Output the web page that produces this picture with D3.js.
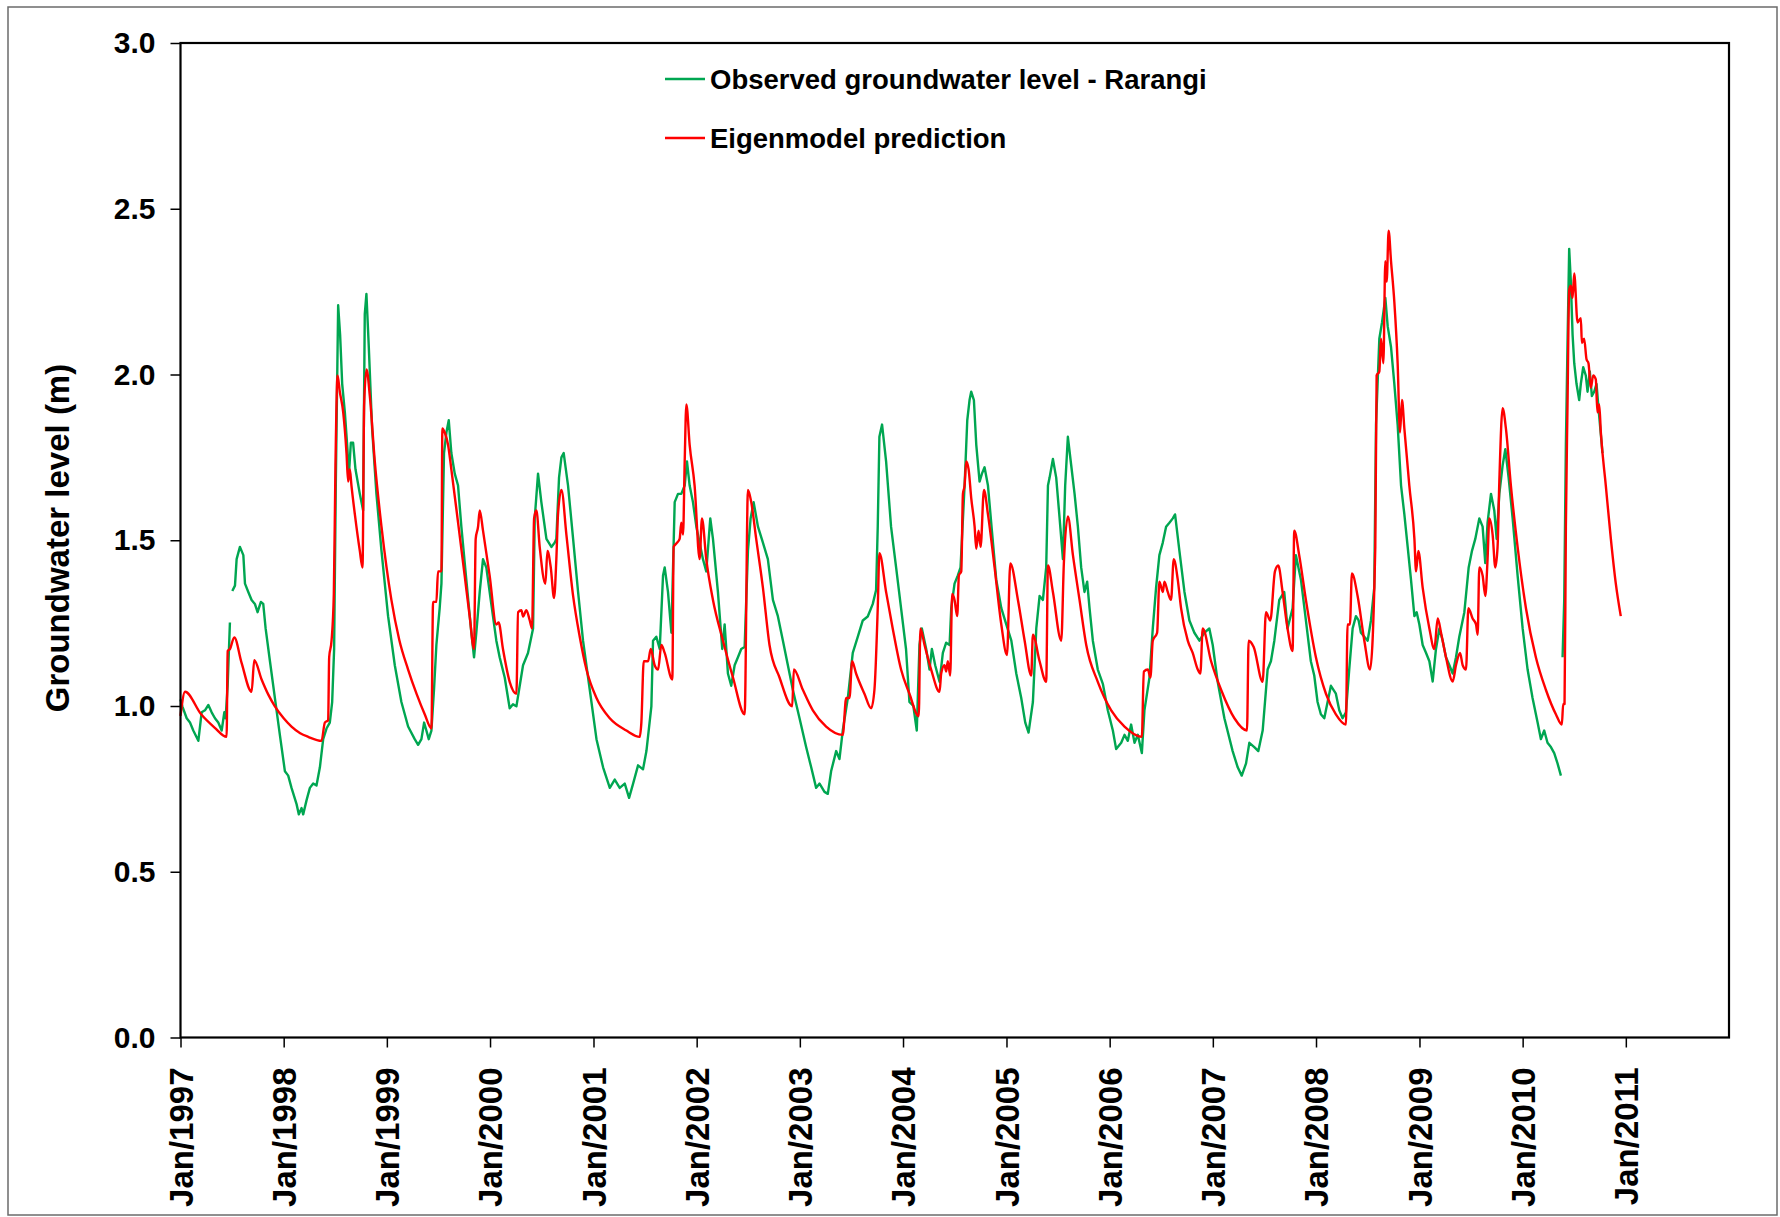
<!DOCTYPE html>
<html>
<head>
<meta charset="utf-8">
<script src="https://cdn.jsdelivr.net/npm/d3@7"></script>
<style>
  body { margin: 0; background: #fff; }
  text { font-family: "Liberation Sans", Arial, sans-serif; font-weight: bold; }
</style>
</head>
<body>
<script>
const width = 1780;
const height = 1217;

// decimal year, groundwater level (m); null = gap in the record
const observedLevel = [
  [1997.000, 1.02], [1997.018, 0.999], [1997.060, 0.963], [1997.092, 0.95], [1997.124, 0.926],
  [1997.173, 0.895], [1997.205, 0.981], [1997.237, 0.987], [1997.270, 1.003], [1997.302, 0.981],
  [1997.334, 0.963], [1997.366, 0.95], [1997.399, 0.926], [1997.425, 0.981], [1997.437, 0.963],
  [1997.457, 1.061], [1997.479, 1.252], [1997.490, null],
  [1997.502, 1.347], [1997.528, 1.363], [1997.544, 1.443], [1997.576, 1.48], [1997.609, 1.455],
  [1997.625, 1.369], [1997.657, 1.344], [1997.689, 1.32], [1997.721, 1.308], [1997.747, 1.283],
  [1997.779, 1.314], [1997.802, 1.308], [1997.825, 1.234], [1997.867, 1.135], [1997.915, 1.024],
  [1997.963, 0.913], [1998.012, 0.803], [1998.044, 0.79], [1998.076, 0.753], [1998.125, 0.704],
  [1998.147, 0.673], [1998.173, 0.692], [1998.189, 0.673], [1998.222, 0.716], [1998.254, 0.753],
  [1998.286, 0.766], [1998.318, 0.76], [1998.351, 0.815], [1998.383, 0.9], [1998.415, 0.932],
  [1998.447, 0.95], [1998.470, 1.012], [1998.489, 1.172], [1998.505, 1.665], [1998.528, 2.209],
  [1998.547, 2.12], [1998.567, 1.972], [1998.593, 1.886], [1998.618, 1.775], [1998.631, 1.69],
  [1998.651, 1.794], [1998.673, 1.794], [1998.696, 1.714], [1998.738, 1.64], [1998.770, 1.59],
  [1998.786, 2.182], [1998.802, 2.243], [1998.825, 2.083], [1998.857, 1.837], [1998.899, 1.64],
  [1998.948, 1.468], [1999.012, 1.271], [1999.077, 1.123], [1999.141, 1.012], [1999.206, 0.938],
  [1999.270, 0.9], [1999.303, 0.883], [1999.335, 0.9], [1999.361, 0.95], [1999.383, 0.926],
  [1999.406, 0.9], [1999.432, 0.926], [1999.457, 1.049], [1999.480, 1.184], [1999.512, 1.295],
  [1999.529, 1.369], [1999.554, 1.763], [1999.577, 1.825], [1999.600, 1.862], [1999.625, 1.763],
  [1999.658, 1.701], [1999.690, 1.665], [1999.722, 1.541], [1999.770, 1.381], [1999.819, 1.221],
  [1999.845, 1.147], [1999.867, 1.221], [1999.900, 1.344], [1999.932, 1.443], [1999.964, 1.418],
  [2000.012, 1.308], [2000.061, 1.197], [2000.093, 1.147], [2000.142, 1.086], [2000.190, 0.993],
  [2000.222, 1.005], [2000.255, 0.999], [2000.287, 1.061], [2000.319, 1.123], [2000.367, 1.16],
  [2000.416, 1.234], [2000.432, 1.566], [2000.464, 1.701], [2000.496, 1.615], [2000.545, 1.504],
  [2000.593, 1.48], [2000.626, 1.493], [2000.641, 1.505], [2000.667, 1.689], [2000.690, 1.75],
  [2000.712, 1.763], [2000.754, 1.665], [2000.803, 1.504], [2000.851, 1.344], [2000.899, 1.197],
  [2000.964, 1.049], [2001.029, 0.9], [2001.093, 0.815], [2001.158, 0.753], [2001.206, 0.778],
  [2001.254, 0.753], [2001.303, 0.766], [2001.345, 0.723], [2001.384, 0.766], [2001.432, 0.821],
  [2001.480, 0.809], [2001.513, 0.864], [2001.561, 0.999], [2001.577, 1.197], [2001.609, 1.209],
  [2001.642, 1.172], [2001.674, 1.394], [2001.690, 1.418], [2001.722, 1.344], [2001.755, 1.221],
  [2001.787, 1.615], [2001.819, 1.64], [2001.851, 1.64], [2001.884, 1.665], [2001.906, 1.738],
  [2001.932, 1.665], [2001.964, 1.615], [2001.997, 1.541], [2002.061, 1.443], [2002.093, 1.406],
  [2002.132, 1.566], [2002.158, 1.504], [2002.206, 1.344], [2002.248, 1.172], [2002.271, 1.246],
  [2002.303, 1.098], [2002.335, 1.061], [2002.368, 1.123], [2002.400, 1.147], [2002.432, 1.172],
  [2002.465, 1.178], [2002.497, 1.468], [2002.523, 1.566], [2002.552, 1.615], [2002.594, 1.541],
  [2002.642, 1.493], [2002.690, 1.443], [2002.739, 1.32], [2002.787, 1.271], [2002.836, 1.197],
  [2002.884, 1.123], [2002.932, 1.049], [2002.997, 0.963], [2003.061, 0.876], [2003.110, 0.815],
  [2003.158, 0.753], [2003.191, 0.766], [2003.239, 0.741], [2003.271, 0.735], [2003.303, 0.803],
  [2003.352, 0.864], [2003.384, 0.84], [2003.416, 0.926], [2003.465, 1.024], [2003.513, 1.16],
  [2003.562, 1.209], [2003.610, 1.258], [2003.658, 1.27], [2003.707, 1.308], [2003.739, 1.35],
  [2003.755, 1.541], [2003.771, 1.812], [2003.797, 1.849], [2003.836, 1.738], [2003.884, 1.541],
  [2003.933, 1.418], [2003.981, 1.295], [2004.029, 1.172], [2004.062, 1.012], [2004.100, 1.0],
  [2004.133, 0.926], [2004.159, 1.184], [2004.182, 1.234], [2004.224, 1.172], [2004.256, 1.11],
  [2004.279, 1.172], [2004.311, 1.123], [2004.353, 1.073], [2004.385, 1.16], [2004.417, 1.191],
  [2004.450, 1.184], [2004.466, 1.295], [2004.498, 1.369], [2004.530, 1.394], [2004.556, 1.418],
  [2004.595, 1.665], [2004.621, 1.862], [2004.643, 1.923], [2004.659, 1.948], [2004.685, 1.923],
  [2004.708, 1.788], [2004.740, 1.677], [2004.763, 1.701], [2004.788, 1.72], [2004.821, 1.665],
  [2004.859, 1.529], [2004.901, 1.381], [2004.950, 1.295], [2004.998, 1.246], [2005.047, 1.197],
  [2005.095, 1.098], [2005.143, 1.024], [2005.182, 0.95], [2005.214, 0.92], [2005.256, 1.012],
  [2005.289, 1.234], [2005.321, 1.332], [2005.353, 1.32], [2005.385, 1.418], [2005.402, 1.665],
  [2005.418, 1.689], [2005.450, 1.745], [2005.482, 1.689], [2005.515, 1.566], [2005.547, 1.443],
  [2005.569, 1.665], [2005.595, 1.812], [2005.627, 1.727], [2005.660, 1.64], [2005.692, 1.541],
  [2005.724, 1.418], [2005.756, 1.344], [2005.782, 1.375], [2005.805, 1.295], [2005.837, 1.197],
  [2005.885, 1.11], [2005.934, 1.067], [2005.982, 0.987], [2006.031, 0.926], [2006.063, 0.87],
  [2006.112, 0.889], [2006.144, 0.913], [2006.176, 0.895], [2006.208, 0.944], [2006.241, 0.889],
  [2006.273, 0.913], [2006.312, 0.858], [2006.337, 0.987], [2006.386, 1.086], [2006.418, 1.234],
  [2006.450, 1.357], [2006.482, 1.455], [2006.515, 1.493], [2006.547, 1.541], [2006.579, 1.553],
  [2006.612, 1.566], [2006.634, 1.578], [2006.676, 1.468], [2006.725, 1.344], [2006.773, 1.258],
  [2006.821, 1.221], [2006.870, 1.197], [2006.918, 1.221], [2006.966, 1.234], [2006.999, 1.184],
  [2007.047, 1.073], [2007.112, 0.963], [2007.192, 0.864], [2007.241, 0.815], [2007.280, 0.79],
  [2007.322, 0.827], [2007.354, 0.889], [2007.402, 0.876], [2007.441, 0.864], [2007.483, 0.926],
  [2007.531, 1.11], [2007.563, 1.135], [2007.596, 1.197], [2007.644, 1.32], [2007.692, 1.344],
  [2007.724, 1.234], [2007.773, 1.295], [2007.805, 1.455], [2007.854, 1.381], [2007.902, 1.258],
  [2007.950, 1.135], [2007.983, 1.092], [2008.015, 1.012], [2008.047, 0.975], [2008.080, 0.963],
  [2008.112, 1.012], [2008.144, 1.061], [2008.192, 1.037], [2008.225, 0.987], [2008.257, 0.963],
  [2008.289, 0.981], [2008.321, 1.11], [2008.354, 1.234], [2008.386, 1.271], [2008.412, 1.258],
  [2008.434, 1.221], [2008.467, 1.209], [2008.499, 1.197], [2008.531, 1.258], [2008.563, 1.357],
  [2008.580, 1.849], [2008.612, 2.108], [2008.638, 2.157], [2008.670, 2.231], [2008.693, 2.145],
  [2008.725, 2.083], [2008.757, 1.972], [2008.789, 1.849], [2008.822, 1.665], [2008.854, 1.578],
  [2008.886, 1.48], [2008.918, 1.381], [2008.951, 1.271], [2008.973, 1.283], [2008.999, 1.246],
  [2009.031, 1.184], [2009.064, 1.16], [2009.096, 1.135], [2009.128, 1.074], [2009.160, 1.172],
  [2009.193, 1.234], [2009.225, 1.197], [2009.257, 1.147], [2009.290, 1.123], [2009.322, 1.098],
  [2009.354, 1.147], [2009.386, 1.209], [2009.435, 1.283], [2009.477, 1.418], [2009.509, 1.468],
  [2009.541, 1.504], [2009.580, 1.566], [2009.612, 1.541], [2009.638, 1.431], [2009.660, 1.553],
  [2009.693, 1.64], [2009.725, 1.59], [2009.748, 1.504], [2009.774, 1.64], [2009.806, 1.726],
  [2009.832, 1.775], [2009.864, 1.689], [2009.903, 1.566], [2009.951, 1.394], [2010.000, 1.234],
  [2010.048, 1.11], [2010.096, 1.024], [2010.145, 0.95], [2010.177, 0.9], [2010.209, 0.926],
  [2010.241, 0.889], [2010.274, 0.876], [2010.306, 0.858], [2010.338, 0.827], [2010.371, 0.79],
  [2010.379, null],
  [2010.387, 1.147], [2010.403, 1.32], [2010.419, 1.788], [2010.435, 2.095], [2010.451, 2.379],
  [2010.467, 2.28], [2010.484, 2.12], [2010.500, 2.034], [2010.522, 1.972], [2010.548, 1.923],
  [2010.564, 1.972], [2010.587, 2.022], [2010.612, 1.997], [2010.629, 1.948], [2010.651, 2.009],
  [2010.671, 1.935], [2010.693, 1.948], [2010.716, 1.972], [2010.742, 1.874], [2010.774, 1.763]
];

const predictedLevel = [
  [1997.000, 0.97], [1997.044, 1.043], [1997.200, 0.975], [1997.330, 0.935], [1997.447, 0.907],
  [1997.457, 1.166], [1997.479, 1.172], [1997.521, 1.207], [1997.592, 1.13], [1997.689, 1.043],
  [1997.715, 1.138], [1997.786, 1.08], [1997.850, 1.035], [1997.915, 0.999], [1998.000, 0.963],
  [1998.076, 0.938], [1998.160, 0.918], [1998.238, 0.907], [1998.367, 0.895], [1998.399, 0.95],
  [1998.431, 0.957], [1998.441, 1.147], [1998.464, 1.197], [1998.486, 1.338], [1998.502, 1.726],
  [1998.522, 1.997], [1998.544, 1.948], [1998.577, 1.886], [1998.609, 1.763], [1998.625, 1.677],
  [1998.641, 1.714], [1998.657, 1.665], [1998.690, 1.578], [1998.738, 1.468], [1998.764, 1.418],
  [1998.780, 1.91], [1998.803, 2.015], [1998.835, 1.935], [1998.883, 1.738], [1998.948, 1.541],
  [1999.044, 1.32], [1999.120, 1.2], [1999.206, 1.11], [1999.290, 1.035], [1999.367, 0.975],
  [1999.432, 0.932], [1999.448, 1.314], [1999.480, 1.314], [1999.496, 1.406], [1999.529, 1.406],
  [1999.538, 1.837], [1999.561, 1.825], [1999.593, 1.788], [1999.625, 1.714], [1999.690, 1.554],
  [1999.754, 1.394], [1999.803, 1.27], [1999.845, 1.172], [1999.861, 1.504], [1999.884, 1.541],
  [1999.900, 1.59], [1999.932, 1.529], [1999.996, 1.394], [2000.061, 1.246], [2000.083, 1.252],
  [2000.125, 1.172], [2000.190, 1.073], [2000.255, 1.037], [2000.271, 1.283], [2000.303, 1.289],
  [2000.319, 1.27], [2000.351, 1.289], [2000.384, 1.258], [2000.406, 1.234], [2000.426, 1.566],
  [2000.448, 1.59], [2000.480, 1.48], [2000.535, 1.369], [2000.555, 1.468], [2000.587, 1.418],
  [2000.619, 1.326], [2000.641, 1.443], [2000.657, 1.578], [2000.690, 1.652], [2000.738, 1.517],
  [2000.803, 1.332], [2000.867, 1.209], [2000.932, 1.11], [2001.029, 1.024], [2001.158, 0.963],
  [2001.319, 0.926], [2001.448, 0.907], [2001.464, 0.95], [2001.487, 1.135], [2001.529, 1.135],
  [2001.555, 1.172], [2001.593, 1.123], [2001.626, 1.11], [2001.658, 1.184], [2001.690, 1.16],
  [2001.764, 1.08], [2001.777, 1.48], [2001.803, 1.49], [2001.835, 1.504], [2001.851, 1.553],
  [2001.868, 1.517], [2001.884, 1.738], [2001.900, 1.91], [2001.932, 1.788], [2001.980, 1.665],
  [2002.029, 1.443], [2002.051, 1.566], [2002.093, 1.443], [2002.158, 1.32], [2002.255, 1.197],
  [2002.352, 1.086], [2002.465, 0.975], [2002.497, 1.652], [2002.529, 1.615], [2002.577, 1.504],
  [2002.642, 1.357], [2002.706, 1.184], [2002.803, 1.086], [2002.926, 0.999], [2002.942, 1.11],
  [2003.029, 1.049], [2003.126, 0.987], [2003.255, 0.938], [2003.416, 0.913], [2003.449, 1.024],
  [2003.481, 1.024], [2003.507, 1.135], [2003.545, 1.098], [2003.626, 1.037], [2003.691, 0.993],
  [2003.723, 1.049], [2003.755, 1.295], [2003.771, 1.461], [2003.836, 1.344], [2003.900, 1.234],
  [2003.981, 1.11], [2004.062, 1.037], [2004.152, 0.969], [2004.168, 1.234], [2004.208, 1.184],
  [2004.272, 1.11], [2004.353, 1.043], [2004.369, 1.098], [2004.401, 1.123], [2004.417, 1.104],
  [2004.433, 1.135], [2004.456, 1.092], [2004.475, 1.338], [2004.498, 1.32], [2004.524, 1.271],
  [2004.540, 1.394], [2004.563, 1.406], [2004.579, 1.64], [2004.595, 1.665], [2004.611, 1.738],
  [2004.634, 1.714], [2004.659, 1.628], [2004.692, 1.541], [2004.708, 1.474], [2004.730, 1.529],
  [2004.750, 1.48], [2004.782, 1.652], [2004.821, 1.578], [2004.885, 1.418], [2004.950, 1.246],
  [2005.005, 1.154], [2005.037, 1.43], [2005.111, 1.32], [2005.176, 1.197], [2005.240, 1.092],
  [2005.256, 1.215], [2005.321, 1.135], [2005.385, 1.073], [2005.402, 1.424], [2005.450, 1.344],
  [2005.531, 1.197], [2005.556, 1.43], [2005.595, 1.572], [2005.644, 1.455], [2005.708, 1.32],
  [2005.773, 1.184], [2005.885, 1.073], [2006.015, 0.987], [2006.144, 0.938], [2006.312, 0.907],
  [2006.331, 1.104], [2006.370, 1.11], [2006.395, 1.086], [2006.418, 1.197], [2006.460, 1.221],
  [2006.482, 1.375], [2006.515, 1.344], [2006.531, 1.375], [2006.563, 1.344], [2006.595, 1.32],
  [2006.621, 1.443], [2006.660, 1.381], [2006.692, 1.295], [2006.757, 1.197], [2006.805, 1.16],
  [2006.854, 1.11], [2006.879, 1.098], [2006.902, 1.234], [2006.983, 1.135], [2007.080, 1.049],
  [2007.209, 0.963], [2007.331, 0.926], [2007.347, 1.197], [2007.396, 1.178], [2007.483, 1.073],
  [2007.515, 1.283], [2007.557, 1.258], [2007.602, 1.406], [2007.634, 1.424], [2007.676, 1.344],
  [2007.724, 1.234], [2007.773, 1.166], [2007.789, 1.529], [2007.837, 1.455], [2007.902, 1.32],
  [2007.999, 1.147], [2008.096, 1.037], [2008.192, 0.975], [2008.289, 0.944], [2008.305, 1.246],
  [2008.328, 1.246], [2008.347, 1.40], [2008.402, 1.332], [2008.467, 1.197], [2008.522, 1.11],
  [2008.573, 1.48], [2008.586, 1.997], [2008.612, 2.009], [2008.628, 2.108], [2008.651, 2.034],
  [2008.670, 2.342], [2008.683, 2.28], [2008.702, 2.434], [2008.725, 2.342], [2008.757, 2.219],
  [2008.789, 2.034], [2008.812, 1.825], [2008.831, 1.923], [2008.854, 1.837], [2008.902, 1.665],
  [2008.951, 1.504], [2008.967, 1.406], [2008.989, 1.468], [2009.031, 1.357], [2009.096, 1.234],
  [2009.144, 1.172], [2009.177, 1.264], [2009.209, 1.221], [2009.257, 1.147], [2009.322, 1.074],
  [2009.354, 1.123], [2009.393, 1.16], [2009.419, 1.123], [2009.451, 1.11], [2009.474, 1.295],
  [2009.515, 1.264], [2009.548, 1.246], [2009.564, 1.215], [2009.580, 1.418], [2009.612, 1.394],
  [2009.638, 1.332], [2009.660, 1.443], [2009.677, 1.566], [2009.709, 1.517], [2009.735, 1.418],
  [2009.757, 1.48], [2009.774, 1.677], [2009.806, 1.898], [2009.838, 1.837], [2009.886, 1.665],
  [2009.951, 1.48], [2010.032, 1.295], [2010.128, 1.147], [2010.225, 1.049], [2010.322, 0.975],
  [2010.380, 0.944], [2010.393, 1.006], [2010.406, 1.006], [2010.419, 1.541], [2010.435, 1.911],
  [2010.451, 2.255], [2010.467, 2.268], [2010.484, 2.231], [2010.500, 2.305], [2010.532, 2.157],
  [2010.564, 2.17], [2010.574, 2.095], [2010.596, 2.108], [2010.619, 2.046], [2010.638, 2.034],
  [2010.661, 1.96], [2010.684, 1.997], [2010.709, 1.985], [2010.725, 1.886], [2010.742, 1.91],
  [2010.758, 1.825], [2010.806, 1.665], [2010.855, 1.504], [2010.903, 1.369], [2010.951, 1.271]
];

const yTickValues = [0, 0.5, 1.0, 1.5, 2.0, 2.5, 3.0];
const xTickYears = d3.range(1997, 2012);
const seriesNames = ["Observed groundwater level - Rarangi", "Eigenmodel prediction"];
const seriesColors = ["#00a651", "#ff0000"];

// decimal year -> Date
function toDate(dy) {
    const yr = Math.floor(dy);
    const start = new Date(yr, 0, 1);
    const end = new Date(yr + 1, 0, 1);
    return new Date(+start + (dy - yr) * (end - start));
}

const plot = { left: 180.5, top: 43, right: 1729, bottom: 1037.5 };

const svg = d3.select("body")
    .append("svg")
    .attr("width", width)
    .attr("height", height);

// outer chart border
svg.append("rect")
    .attr("x", 8).attr("y", 7)
    .attr("width", 1769).attr("height", 1208)
    .attr("fill", "#fff")
    .attr("stroke", "#6b6b6b")
    .attr("stroke-width", 1.5);

const x = d3.scaleTime()
    .domain([new Date(1997, 0, 1), new Date(2012, 0, 1)])
    .range([plot.left, plot.right]);

const y = d3.scaleLinear()
    .domain([0, 3])
    .range([plot.bottom, plot.top]);

// y axis
const yAxis = svg.append("g")
    .attr("transform", `translate(${plot.left},0)`)
    .call(d3.axisLeft(y).tickValues(yTickValues).tickFormat(d3.format(".1f")).tickSize(10).tickPadding(15));
yAxis.select(".domain").remove();
yAxis.selectAll("line").attr("stroke", "#000").attr("stroke-width", 1.5);
yAxis.selectAll("text")
    .attr("fill", "#000")
    .style("font-size", "30px");

// x axis with rotated labels
const xAxis = svg.append("g")
    .attr("transform", `translate(0,${plot.bottom})`)
    .call(d3.axisBottom(x)
        .tickValues(xTickYears.map(yr => new Date(yr, 0, 1)))
        .tickFormat(d3.timeFormat("Jan/%Y"))
        .tickSize(10));
xAxis.select(".domain").remove();
xAxis.selectAll("line").attr("stroke", "#000").attr("stroke-width", 1.5);
xAxis.selectAll("text")
    .attr("fill", "#000")
    .attr("transform", "rotate(-90)")
    .attr("x", -30)
    .attr("y", 0)
    .attr("dy", "0.36em")
    .style("text-anchor", "end")
    .style("font-size", "33px");

// y axis title
svg.append("text")
    .attr("transform", "translate(57,538) rotate(-90)")
    .attr("text-anchor", "middle")
    .attr("dy", "0.36em")
    .style("font-size", "33px")
    .text("Groundwater level (m)");

const obsLine = d3.line()
    .defined(d => d[1] !== null)
    .x(d => x(toDate(d[0])))
    .y(d => y(d[1]));

// model recessions are smooth curves
const predLine = d3.line()
    .curve(d3.curveMonotoneX)
    .x(d => x(toDate(d[0])))
    .y(d => y(d[1]));

svg.append("path")
    .datum(observedLevel)
    .attr("fill", "none")
    .attr("stroke", seriesColors[0])
    .attr("stroke-width", 2.4)
    .attr("stroke-linejoin", "round")
    .attr("d", obsLine);

svg.append("path")
    .datum(predictedLevel)
    .attr("fill", "none")
    .attr("stroke", seriesColors[1])
    .attr("stroke-width", 2.4)
    .attr("stroke-linejoin", "round")
    .attr("d", predLine);

// plot frame
svg.append("rect")
    .attr("x", plot.left).attr("y", plot.top)
    .attr("width", plot.right - plot.left)
    .attr("height", plot.bottom - plot.top)
    .attr("fill", "none")
    .attr("stroke", "#000")
    .attr("stroke-width", 2.2);

// legend
const legend = svg.selectAll(".legend")
    .data(seriesNames)
    .enter()
    .append("g")
    .attr("class", "legend")
    .attr("transform", (d, i) => `translate(665,${79 + i * 59})`);

legend.append("line")
    .attr("x1", 0).attr("x2", 40)
    .attr("stroke", (d, i) => seriesColors[i])
    .attr("stroke-width", 2.4);

legend.append("text")
    .attr("x", 45)
    .attr("dy", "0.36em")
    .style("font-size", "27.5px")
    .text(d => d);
</script>
</body>
</html>
